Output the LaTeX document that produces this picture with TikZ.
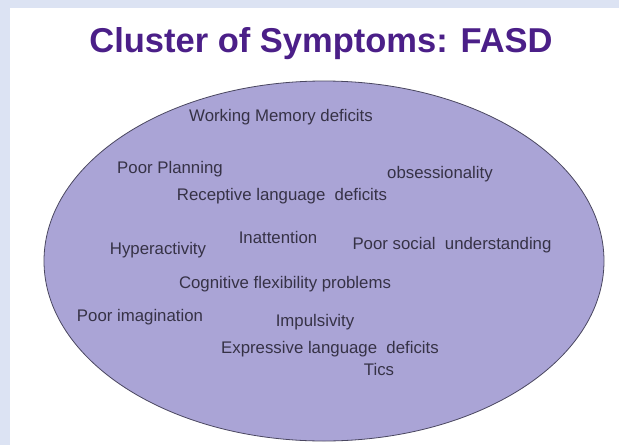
\documentclass[tikz,border=0pt]{standalone}
\usepackage{fontspec}
\usetikzlibrary{shapes.geometric}
\setmainfont{Liberation Sans}
\definecolor{bgblue}{HTML}{DCE3F3}
\definecolor{ellfill}{HTML}{AAA4D6}
\definecolor{ellline}{HTML}{4A4760}
\definecolor{titlepurple}{HTML}{4B1F88}
\definecolor{symtext}{HTML}{363246}
\tikzset{
  sym/.style={font=\fontsize{16.8}{20}\selectfont, text=symtext, inner sep=0pt, anchor=base},
  titletext/.style={font=\fontsize{34.5}{40}\selectfont\bfseries, text=titlepurple, inner sep=0pt, anchor=base}
}
\begin{document}
\begin{tikzpicture}[x=1pt,y=-1pt]
\useasboundingbox (0,0) rectangle (619,445);
\fill[bgblue] (0,0) rectangle (619,445);
\fill[white] (10,8) rectangle (619,445);
\node[titletext] (title) at (321,52) {Cluster of Symptoms: FASD};
\node[ellipse, minimum width=560pt, minimum height=360pt, fill=ellfill, draw=ellline, line width=0.8pt, inner sep=0pt] (ell) at (324,261) {};
\node[sym] (wm) at (281,121) {Working Memory deficits};
\node[sym] (pp) at (170,173) {Poor Planning};
\node[sym] (ob) at (440,178) {obsessionality};
\node[sym] (rl) at (282,200) {Receptive language\ \ deficits};
\node[sym] (hy) at (158,254) {Hyperactivity};
\node[sym] (in) at (278,243) {Inattention};
\node[sym] (ps) at (452,249) {Poor social\ \ understanding};
\node[sym] (cf) at (285,288) {Cognitive flexibility problems};
\node[sym] (pi) at (140,321) {Poor imagination};
\node[sym] (im) at (315,326) {Impulsivity};
\node[sym] (el) at (330,353) {Expressive language\ \ deficits};
\node[sym] (ti) at (379,375) {Tics};
\end{tikzpicture}
\end{document}
